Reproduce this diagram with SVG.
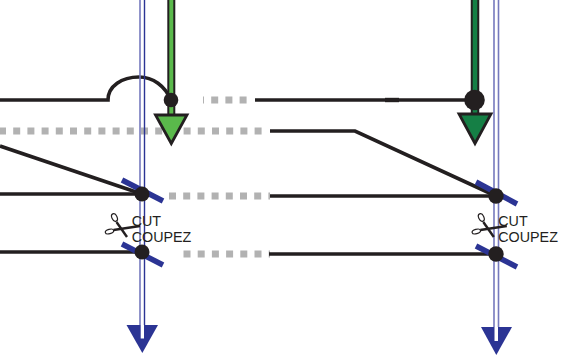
<svg xmlns="http://www.w3.org/2000/svg" width="582" height="360" viewBox="0 0 582 360">
<style>
.k{fill:none;stroke:#231f20;stroke-width:3.6}
.gd{fill:none;stroke:#b2b2b2;stroke-width:7;stroke-dasharray:7 7.200}
.dot{fill:#231f20}
.cut{stroke:#2b3494;stroke-width:5.500;fill:none}
.dl{stroke:#2b3494;stroke-width:1.400;fill:none}
.dl2{stroke:#7579bd;stroke-width:1.600;fill:none}
.head{fill:#2b3494}
.t{font:14.300px "Liberation Sans",Arial,sans-serif;fill:#231f20}
.sc{fill:none;stroke:#231f20;stroke-width:1.200}
.sb{fill:none;stroke:#231f20;stroke-width:2.400}
</style>
<defs>
<g id="scissors">
<ellipse class="sc" cx="114.500" cy="217.500" rx="2.600" ry="4" transform="rotate(-25 114.500 217.500)"/>
<ellipse class="sc" cx="109.500" cy="231.500" rx="4.300" ry="2.200" transform="rotate(-15 109.500 231.500)"/>
<path class="sb" d="M116.500 222L127 237"/>
<path class="sb" d="M113.500 230L140 226"/>
</g>
</defs>
<g id="connectors">
<path class="gd" stroke-dashoffset="6" d="M203 100H252"/>
<path class="gd" d="M-1 131H265"/>
<path class="gd" d="M169 196H270"/>
<path class="gd" d="M183.500 254H270"/>
<path class="k" d="M0 100H108C108 86 122 77 139 77C153 77 165 86 171 100"/>
<path class="k" d="M255 100H474"/>
<path d="M385 100H399" stroke="#231f20" stroke-width="4.400" fill="none"/>
<path class="k" d="M270 131H355L496 196"/>
<path class="k" d="M0 146L142 194"/>
<path class="k" d="M0 194H142"/>
<path class="k" d="M270 196H496"/>
<path class="k" d="M0 252H142"/>
<path class="k" d="M269 254H496"/>
</g>
<g id="left-double-line">
<path class="dl2" d="M140 0V340"/>
<path class="dl" d="M144.500 0V340"/>
</g>
<g id="right-double-line">
<path class="dl2" d="M494 0V342"/>
<path class="dl2" d="M498.500 0V342"/>
</g>
<g id="left-green">
<path d="M171.300 0V116" stroke="#231f20" stroke-width="8" fill="none"/>
<path d="M171.300 0V118" stroke="#5ab94b" stroke-width="4" fill="none"/>
<path d="M155.500 115H187L171.300 143.500Z" fill="#5ab94b" stroke="#231f20" stroke-width="2.800"/>
<circle class="dot" cx="171" cy="100" r="7.300"/>
</g>
<g id="right-green">
<path d="M475 0V116" stroke="#231f20" stroke-width="8.500" fill="none"/>
<path d="M475 0V118" stroke="#157f45" stroke-width="4.500" fill="none"/>
<path d="M459 114H491L475 143.500Z" fill="#157f45" stroke="#231f20" stroke-width="2.800"/>
<circle class="dot" cx="474.500" cy="100" r="10.300"/>
</g>
<g id="left-cut-upper">
<path class="cut" d="M122 180L163 201"/>
<circle class="dot" cx="142" cy="194" r="7.500"/>
</g>
<g id="left-cut-lower">
<path class="cut" d="M122 244L163 265"/>
<circle class="dot" cx="142" cy="252" r="7.500"/>
</g>
<g id="right-cut-upper">
<path class="cut" d="M476 182L517 204"/>
<circle class="dot" cx="496" cy="196" r="7.700"/>
</g>
<g id="right-cut-lower">
<path class="cut" d="M476 246L517 267"/>
<circle class="dot" cx="496" cy="254" r="7.700"/>
</g>
<g id="left-arrow">
<path class="head" d="M126.500 325H158L142.300 353Z"/>
<path d="M140.700 325H144V338.500H140.700Z" fill="#fff"/>
</g>
<g id="right-arrow">
<path class="head" d="M481 327H512L496.300 355Z"/>
<path d="M494.500 327H498V341H494.500Z" fill="#fff"/>
</g>
<g id="left-label">
<use href="#scissors"/>
<text class="t" x="131.700" y="226">CUT</text>
<text class="t" x="131.700" y="242">COUPEZ</text>
</g>
<g id="right-label">
<use href="#scissors" x="366.800"/>
<text class="t" x="498.300" y="226">CUT</text>
<text class="t" x="498.300" y="242">COUPEZ</text>
</g>
</svg>
